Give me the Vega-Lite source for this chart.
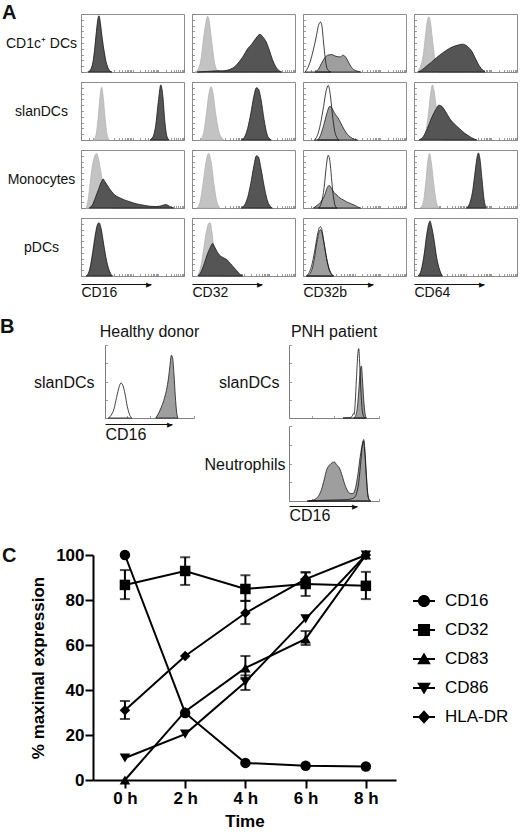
{
  "$schema": "https://vega.github.io/schema/vega-lite/v6.json",
  "padding": {"left": 0, "top": 2, "right": 0, "bottom": 0},
  "background": "white",
  "config": {
    "font": "Liberation Sans",
    "view": {"stroke": null},
    "axis": {"domain": false, "labels": false, "grid": false, "ticks": true, "tickSize": -2.5, "tickColor": "#808080", "tickWidth": 0.8, "titleFontWeight": "normal", "titleColor": "#111", "labelColor": "#111"},
    "title": {"color": "#111"}
  },
  "datasets": {
    "hist": [
      {"p":"a11","s":"1c","x":6,"y":0},{"p":"a11","s":"1c","x":9,"y":4},{"p":"a11","s":"1c","x":12,"y":18},{"p":"a11","s":"1c","x":14,"y":50},{"p":"a11","s":"1c","x":16,"y":85},{"p":"a11","s":"1c","x":17.5,"y":95},{"p":"a11","s":"1c","x":19,"y":82},{"p":"a11","s":"1c","x":21,"y":55},{"p":"a11","s":"1c","x":23,"y":30},{"p":"a11","s":"1c","x":25,"y":12},{"p":"a11","s":"1c","x":27,"y":4},{"p":"a11","s":"1c","x":29,"y":0},
      {"p":"a11","s":"2d","x":7,"y":0},{"p":"a11","s":"2d","x":9,"y":3},{"p":"a11","s":"2d","x":11,"y":12},{"p":"a11","s":"2d","x":13,"y":35},{"p":"a11","s":"2d","x":15,"y":70},{"p":"a11","s":"2d","x":16.5,"y":92},{"p":"a11","s":"2d","x":17.5,"y":97},{"p":"a11","s":"2d","x":18.5,"y":88},{"p":"a11","s":"2d","x":20,"y":65},{"p":"a11","s":"2d","x":22,"y":40},{"p":"a11","s":"2d","x":24,"y":20},{"p":"a11","s":"2d","x":26,"y":8},{"p":"a11","s":"2d","x":28,"y":2},{"p":"a11","s":"2d","x":30,"y":0},

      {"p":"a12","s":"1c","x":3,"y":0},{"p":"a12","s":"1c","x":6,"y":5},{"p":"a12","s":"1c","x":9,"y":25},{"p":"a12","s":"1c","x":11,"y":55},{"p":"a12","s":"1c","x":13,"y":80},{"p":"a12","s":"1c","x":15,"y":96},{"p":"a12","s":"1c","x":16.5,"y":90},{"p":"a12","s":"1c","x":18,"y":70},{"p":"a12","s":"1c","x":20,"y":40},{"p":"a12","s":"1c","x":22,"y":15},{"p":"a12","s":"1c","x":24,"y":4},{"p":"a12","s":"1c","x":26,"y":0},
      {"p":"a12","s":"2d","x":5,"y":0},{"p":"a12","s":"2d","x":15,"y":1},{"p":"a12","s":"2d","x":25,"y":2},{"p":"a12","s":"2d","x":30,"y":2},{"p":"a12","s":"2d","x":36,"y":4},{"p":"a12","s":"2d","x":42,"y":10},{"p":"a12","s":"2d","x":46,"y":18},{"p":"a12","s":"2d","x":50,"y":28},{"p":"a12","s":"2d","x":54,"y":40},{"p":"a12","s":"2d","x":58,"y":48},{"p":"a12","s":"2d","x":62,"y":58},{"p":"a12","s":"2d","x":66,"y":65},{"p":"a12","s":"2d","x":69,"y":60},{"p":"a12","s":"2d","x":72,"y":52},{"p":"a12","s":"2d","x":75,"y":38},{"p":"a12","s":"2d","x":78,"y":22},{"p":"a12","s":"2d","x":81,"y":10},{"p":"a12","s":"2d","x":84,"y":3},{"p":"a12","s":"2d","x":87,"y":0},

      {"p":"a13","s":"1g","x":12,"y":0},{"p":"a13","s":"1g","x":15,"y":5},{"p":"a13","s":"1g","x":18,"y":15},{"p":"a13","s":"1g","x":21,"y":24},{"p":"a13","s":"1g","x":24,"y":29},{"p":"a13","s":"1g","x":28,"y":30},{"p":"a13","s":"1g","x":32,"y":27},{"p":"a13","s":"1g","x":36,"y":26},{"p":"a13","s":"1g","x":39,"y":29},{"p":"a13","s":"1g","x":42,"y":24},{"p":"a13","s":"1g","x":45,"y":14},{"p":"a13","s":"1g","x":48,"y":6},{"p":"a13","s":"1g","x":52,"y":2},{"p":"a13","s":"1g","x":56,"y":0},
      {"p":"a13","s":"2o","x":2,"y":0},{"p":"a13","s":"2o","x":4,"y":5},{"p":"a13","s":"2o","x":7,"y":18},{"p":"a13","s":"2o","x":10,"y":38},{"p":"a13","s":"2o","x":13,"y":62},{"p":"a13","s":"2o","x":15,"y":80},{"p":"a13","s":"2o","x":17,"y":86},{"p":"a13","s":"2o","x":18.5,"y":78},{"p":"a13","s":"2o","x":20,"y":50},{"p":"a13","s":"2o","x":21.5,"y":25},{"p":"a13","s":"2o","x":23,"y":8},{"p":"a13","s":"2o","x":25,"y":2},{"p":"a13","s":"2o","x":27,"y":0},

      {"p":"a14","s":"1c","x":3,"y":0},{"p":"a14","s":"1c","x":6,"y":8},{"p":"a14","s":"1c","x":9,"y":30},{"p":"a14","s":"1c","x":11,"y":60},{"p":"a14","s":"1c","x":13,"y":88},{"p":"a14","s":"1c","x":14.5,"y":95},{"p":"a14","s":"1c","x":16,"y":85},{"p":"a14","s":"1c","x":18,"y":55},{"p":"a14","s":"1c","x":20,"y":25},{"p":"a14","s":"1c","x":22,"y":8},{"p":"a14","s":"1c","x":24,"y":0},
      {"p":"a14","s":"2d","x":4,"y":0},{"p":"a14","s":"2d","x":8,"y":4},{"p":"a14","s":"2d","x":12,"y":10},{"p":"a14","s":"2d","x":17,"y":17},{"p":"a14","s":"2d","x":22,"y":25},{"p":"a14","s":"2d","x":27,"y":32},{"p":"a14","s":"2d","x":32,"y":38},{"p":"a14","s":"2d","x":37,"y":43},{"p":"a14","s":"2d","x":42,"y":46},{"p":"a14","s":"2d","x":47,"y":48},{"p":"a14","s":"2d","x":52,"y":44},{"p":"a14","s":"2d","x":56,"y":36},{"p":"a14","s":"2d","x":60,"y":22},{"p":"a14","s":"2d","x":64,"y":9},{"p":"a14","s":"2d","x":67,"y":3},{"p":"a14","s":"2d","x":69,"y":0},

      {"p":"a21","s":"1c","x":12,"y":0},{"p":"a21","s":"1c","x":14.5,"y":8},{"p":"a21","s":"1c","x":16.5,"y":35},{"p":"a21","s":"1c","x":18.5,"y":75},{"p":"a21","s":"1c","x":20,"y":91},{"p":"a21","s":"1c","x":21.5,"y":75},{"p":"a21","s":"1c","x":23.5,"y":35},{"p":"a21","s":"1c","x":25.5,"y":8},{"p":"a21","s":"1c","x":27.5,"y":0},
      {"p":"a21","s":"2d","x":67,"y":0},{"p":"a21","s":"2d","x":70,"y":6},{"p":"a21","s":"2d","x":72.5,"y":25},{"p":"a21","s":"2d","x":75,"y":65},{"p":"a21","s":"2d","x":77.5,"y":95},{"p":"a21","s":"2d","x":79.5,"y":75},{"p":"a21","s":"2d","x":81.5,"y":30},{"p":"a21","s":"2d","x":83.5,"y":6},{"p":"a21","s":"2d","x":85.5,"y":0},

      {"p":"a22","s":"1c","x":8,"y":0},{"p":"a22","s":"1c","x":11,"y":10},{"p":"a22","s":"1c","x":14,"y":45},{"p":"a22","s":"1c","x":16.5,"y":80},{"p":"a22","s":"1c","x":18.5,"y":92},{"p":"a22","s":"1c","x":20.5,"y":80},{"p":"a22","s":"1c","x":23,"y":45},{"p":"a22","s":"1c","x":26,"y":15},{"p":"a22","s":"1c","x":29,"y":3},{"p":"a22","s":"1c","x":31,"y":0},
      {"p":"a22","s":"2d","x":48,"y":0},{"p":"a22","s":"2d","x":51,"y":5},{"p":"a22","s":"2d","x":54,"y":20},{"p":"a22","s":"2d","x":57,"y":45},{"p":"a22","s":"2d","x":60,"y":75},{"p":"a22","s":"2d","x":62.5,"y":90},{"p":"a22","s":"2d","x":64.5,"y":88},{"p":"a22","s":"2d","x":67,"y":70},{"p":"a22","s":"2d","x":70,"y":35},{"p":"a22","s":"2d","x":72.5,"y":12},{"p":"a22","s":"2d","x":75,"y":2},{"p":"a22","s":"2d","x":77,"y":0},

      {"p":"a23","s":"1g","x":14,"y":0},{"p":"a23","s":"1g","x":17,"y":8},{"p":"a23","s":"1g","x":20,"y":25},{"p":"a23","s":"1g","x":23,"y":45},{"p":"a23","s":"1g","x":26,"y":58},{"p":"a23","s":"1g","x":28,"y":55},{"p":"a23","s":"1g","x":31,"y":45},{"p":"a23","s":"1g","x":34,"y":38},{"p":"a23","s":"1g","x":37,"y":28},{"p":"a23","s":"1g","x":40,"y":18},{"p":"a23","s":"1g","x":43,"y":10},{"p":"a23","s":"1g","x":46,"y":5},{"p":"a23","s":"1g","x":50,"y":1},{"p":"a23","s":"1g","x":53,"y":0},
      {"p":"a23","s":"2o","x":11,"y":0},{"p":"a23","s":"2o","x":14,"y":8},{"p":"a23","s":"2o","x":17,"y":28},{"p":"a23","s":"2o","x":20,"y":58},{"p":"a23","s":"2o","x":22.5,"y":85},{"p":"a23","s":"2o","x":24.5,"y":94},{"p":"a23","s":"2o","x":26.5,"y":78},{"p":"a23","s":"2o","x":28.5,"y":45},{"p":"a23","s":"2o","x":30.5,"y":18},{"p":"a23","s":"2o","x":33,"y":4},{"p":"a23","s":"2o","x":35,"y":0},

      {"p":"a24","s":"1c","x":8,"y":0},{"p":"a24","s":"1c","x":11,"y":10},{"p":"a24","s":"1c","x":14,"y":45},{"p":"a24","s":"1c","x":16.5,"y":85},{"p":"a24","s":"1c","x":18,"y":95},{"p":"a24","s":"1c","x":19.5,"y":85},{"p":"a24","s":"1c","x":22,"y":50},{"p":"a24","s":"1c","x":25,"y":15},{"p":"a24","s":"1c","x":28,"y":0},
      {"p":"a24","s":"2d","x":5,"y":0},{"p":"a24","s":"2d","x":9,"y":6},{"p":"a24","s":"2d","x":13,"y":20},{"p":"a24","s":"2d","x":17,"y":38},{"p":"a24","s":"2d","x":21,"y":52},{"p":"a24","s":"2d","x":24,"y":60},{"p":"a24","s":"2d","x":27,"y":58},{"p":"a24","s":"2d","x":31,"y":48},{"p":"a24","s":"2d","x":35,"y":36},{"p":"a24","s":"2d","x":39,"y":28},{"p":"a24","s":"2d","x":44,"y":20},{"p":"a24","s":"2d","x":49,"y":12},{"p":"a24","s":"2d","x":54,"y":6},{"p":"a24","s":"2d","x":58,"y":2},{"p":"a24","s":"2d","x":61,"y":0},

      {"p":"a31","s":"1c","x":5,"y":0},{"p":"a31","s":"1c","x":7,"y":15},{"p":"a31","s":"1c","x":9,"y":45},{"p":"a31","s":"1c","x":11,"y":72},{"p":"a31","s":"1c","x":13,"y":88},{"p":"a31","s":"1c","x":15,"y":94},{"p":"a31","s":"1c","x":17,"y":85},{"p":"a31","s":"1c","x":19,"y":65},{"p":"a31","s":"1c","x":21,"y":45},{"p":"a31","s":"1c","x":23,"y":28},{"p":"a31","s":"1c","x":25,"y":12},{"p":"a31","s":"1c","x":27,"y":3},{"p":"a31","s":"1c","x":29,"y":0},
      {"p":"a31","s":"2d","x":8,"y":0},{"p":"a31","s":"2d","x":11,"y":5},{"p":"a31","s":"2d","x":14,"y":18},{"p":"a31","s":"2d","x":17,"y":32},{"p":"a31","s":"2d","x":20,"y":46},{"p":"a31","s":"2d","x":21.5,"y":50},{"p":"a31","s":"2d","x":23,"y":46},{"p":"a31","s":"2d","x":26,"y":38},{"p":"a31","s":"2d","x":29,"y":30},{"p":"a31","s":"2d","x":33,"y":22},{"p":"a31","s":"2d","x":37,"y":18},{"p":"a31","s":"2d","x":42,"y":14},{"p":"a31","s":"2d","x":47,"y":11},{"p":"a31","s":"2d","x":52,"y":8},{"p":"a31","s":"2d","x":57,"y":6},{"p":"a31","s":"2d","x":62,"y":4.5},{"p":"a31","s":"2d","x":67,"y":3},{"p":"a31","s":"2d","x":72,"y":2.5},{"p":"a31","s":"2d","x":76,"y":3},{"p":"a31","s":"2d","x":80,"y":5},{"p":"a31","s":"2d","x":82,"y":6},{"p":"a31","s":"2d","x":85,"y":4},{"p":"a31","s":"2d","x":88,"y":1},{"p":"a31","s":"2d","x":90,"y":0},

      {"p":"a32","s":"1c","x":5,"y":0},{"p":"a32","s":"1c","x":8,"y":12},{"p":"a32","s":"1c","x":11,"y":45},{"p":"a32","s":"1c","x":13.5,"y":78},{"p":"a32","s":"1c","x":16,"y":94},{"p":"a32","s":"1c","x":18.5,"y":80},{"p":"a32","s":"1c","x":21,"y":45},{"p":"a32","s":"1c","x":24,"y":12},{"p":"a32","s":"1c","x":27,"y":0},
      {"p":"a32","s":"2d","x":48,"y":0},{"p":"a32","s":"2d","x":51,"y":5},{"p":"a32","s":"2d","x":54,"y":18},{"p":"a32","s":"2d","x":57,"y":42},{"p":"a32","s":"2d","x":60,"y":72},{"p":"a32","s":"2d","x":62.5,"y":90},{"p":"a32","s":"2d","x":64.5,"y":88},{"p":"a32","s":"2d","x":67,"y":68},{"p":"a32","s":"2d","x":70,"y":38},{"p":"a32","s":"2d","x":73,"y":14},{"p":"a32","s":"2d","x":76,"y":3},{"p":"a32","s":"2d","x":78,"y":0},

      {"p":"a33","s":"1g","x":10,"y":0},{"p":"a33","s":"1g","x":14,"y":5},{"p":"a33","s":"1g","x":18,"y":12},{"p":"a33","s":"1g","x":21,"y":22},{"p":"a33","s":"1g","x":23.5,"y":35},{"p":"a33","s":"1g","x":25.5,"y":39},{"p":"a33","s":"1g","x":27.5,"y":34},{"p":"a33","s":"1g","x":30,"y":27},{"p":"a33","s":"1g","x":33,"y":22},{"p":"a33","s":"1g","x":36,"y":17},{"p":"a33","s":"1g","x":39,"y":14},{"p":"a33","s":"1g","x":43,"y":10},{"p":"a33","s":"1g","x":47,"y":7},{"p":"a33","s":"1g","x":51,"y":4},{"p":"a33","s":"1g","x":54,"y":1},{"p":"a33","s":"1g","x":56,"y":0},
      {"p":"a33","s":"2o","x":15,"y":0},{"p":"a33","s":"2o","x":18,"y":10},{"p":"a33","s":"2o","x":20.5,"y":35},{"p":"a33","s":"2o","x":22.5,"y":70},{"p":"a33","s":"2o","x":24.5,"y":91},{"p":"a33","s":"2o","x":26.5,"y":75},{"p":"a33","s":"2o","x":28,"y":45},{"p":"a33","s":"2o","x":29.5,"y":20},{"p":"a33","s":"2o","x":31,"y":5},{"p":"a33","s":"2o","x":33,"y":0},

      {"p":"a34","s":"1c","x":6,"y":0},{"p":"a34","s":"1c","x":9,"y":10},{"p":"a34","s":"1c","x":11.5,"y":45},{"p":"a34","s":"1c","x":13.5,"y":82},{"p":"a34","s":"1c","x":15,"y":94},{"p":"a34","s":"1c","x":16.5,"y":82},{"p":"a34","s":"1c","x":19,"y":45},{"p":"a34","s":"1c","x":21.5,"y":12},{"p":"a34","s":"1c","x":24,"y":0},
      {"p":"a34","s":"2d","x":51,"y":0},{"p":"a34","s":"2d","x":54,"y":8},{"p":"a34","s":"2d","x":57,"y":30},{"p":"a34","s":"2d","x":59.5,"y":65},{"p":"a34","s":"2d","x":61.5,"y":90},{"p":"a34","s":"2d","x":62.5,"y":95},{"p":"a34","s":"2d","x":64,"y":85},{"p":"a34","s":"2d","x":66,"y":50},{"p":"a34","s":"2d","x":68,"y":15},{"p":"a34","s":"2d","x":70,"y":0},

      {"p":"a41","s":"1c","x":5,"y":0},{"p":"a41","s":"1c","x":8,"y":10},{"p":"a41","s":"1c","x":11,"y":40},{"p":"a41","s":"1c","x":14,"y":75},{"p":"a41","s":"1c","x":16.5,"y":90},{"p":"a41","s":"1c","x":18.5,"y":85},{"p":"a41","s":"1c","x":21,"y":60},{"p":"a41","s":"1c","x":24,"y":28},{"p":"a41","s":"1c","x":27,"y":8},{"p":"a41","s":"1c","x":30,"y":0},
      {"p":"a41","s":"2d","x":5,"y":0},{"p":"a41","s":"2d","x":8,"y":8},{"p":"a41","s":"2d","x":11,"y":35},{"p":"a41","s":"2d","x":13.5,"y":65},{"p":"a41","s":"2d","x":15.5,"y":85},{"p":"a41","s":"2d","x":17.5,"y":92},{"p":"a41","s":"2d","x":19.5,"y":82},{"p":"a41","s":"2d","x":22,"y":55},{"p":"a41","s":"2d","x":25,"y":25},{"p":"a41","s":"2d","x":28,"y":7},{"p":"a41","s":"2d","x":30.5,"y":0},

      {"p":"a42","s":"1c","x":5,"y":0},{"p":"a42","s":"1c","x":8,"y":12},{"p":"a42","s":"1c","x":11,"y":42},{"p":"a42","s":"1c","x":13.5,"y":72},{"p":"a42","s":"1c","x":16,"y":90},{"p":"a42","s":"1c","x":17.5,"y":92},{"p":"a42","s":"1c","x":19,"y":80},{"p":"a42","s":"1c","x":21,"y":50},{"p":"a42","s":"1c","x":23,"y":22},{"p":"a42","s":"1c","x":25,"y":5},{"p":"a42","s":"1c","x":27,"y":0},
      {"p":"a42","s":"2d","x":6,"y":0},{"p":"a42","s":"2d","x":9,"y":8},{"p":"a42","s":"2d","x":12,"y":22},{"p":"a42","s":"2d","x":15,"y":38},{"p":"a42","s":"2d","x":18,"y":50},{"p":"a42","s":"2d","x":20,"y":56},{"p":"a42","s":"2d","x":22,"y":50},{"p":"a42","s":"2d","x":25,"y":40},{"p":"a42","s":"2d","x":28,"y":34},{"p":"a42","s":"2d","x":31,"y":31},{"p":"a42","s":"2d","x":34,"y":28},{"p":"a42","s":"2d","x":37,"y":22},{"p":"a42","s":"2d","x":40,"y":16},{"p":"a42","s":"2d","x":43,"y":10},{"p":"a42","s":"2d","x":46,"y":4},{"p":"a42","s":"2d","x":49,"y":0},

      {"p":"a43","s":"1g","x":4,"y":0},{"p":"a43","s":"1g","x":8,"y":8},{"p":"a43","s":"1g","x":11,"y":30},{"p":"a43","s":"1g","x":13.5,"y":58},{"p":"a43","s":"1g","x":15.5,"y":75},{"p":"a43","s":"1g","x":17,"y":80},{"p":"a43","s":"1g","x":18.5,"y":74},{"p":"a43","s":"1g","x":20.5,"y":55},{"p":"a43","s":"1g","x":23,"y":30},{"p":"a43","s":"1g","x":25.5,"y":12},{"p":"a43","s":"1g","x":28,"y":3},{"p":"a43","s":"1g","x":30,"y":0},
      {"p":"a43","s":"2o","x":3,"y":0},{"p":"a43","s":"2o","x":6,"y":6},{"p":"a43","s":"2o","x":9,"y":22},{"p":"a43","s":"2o","x":12,"y":50},{"p":"a43","s":"2o","x":14.5,"y":75},{"p":"a43","s":"2o","x":16.5,"y":85},{"p":"a43","s":"2o","x":18,"y":82},{"p":"a43","s":"2o","x":20,"y":62},{"p":"a43","s":"2o","x":22,"y":40},{"p":"a43","s":"2o","x":24,"y":20},{"p":"a43","s":"2o","x":26.5,"y":6},{"p":"a43","s":"2o","x":29,"y":0},

      {"p":"a44","s":"1c","x":4,"y":0},{"p":"a44","s":"1c","x":7,"y":10},{"p":"a44","s":"1c","x":10,"y":40},{"p":"a44","s":"1c","x":12.5,"y":75},{"p":"a44","s":"1c","x":14.5,"y":92},{"p":"a44","s":"1c","x":16.5,"y":85},{"p":"a44","s":"1c","x":19,"y":60},{"p":"a44","s":"1c","x":22,"y":28},{"p":"a44","s":"1c","x":25,"y":8},{"p":"a44","s":"1c","x":27.5,"y":0},
      {"p":"a44","s":"2d","x":4,"y":0},{"p":"a44","s":"2d","x":7,"y":10},{"p":"a44","s":"2d","x":10,"y":38},{"p":"a44","s":"2d","x":12.5,"y":72},{"p":"a44","s":"2d","x":14.5,"y":90},{"p":"a44","s":"2d","x":15.5,"y":95},{"p":"a44","s":"2d","x":17,"y":86},{"p":"a44","s":"2d","x":19.5,"y":62},{"p":"a44","s":"2d","x":22,"y":32},{"p":"a44","s":"2d","x":25,"y":10},{"p":"a44","s":"2d","x":27.5,"y":0},

      {"p":"b1","s":"1g","x":57,"y":0},{"p":"b1","s":"1g","x":60,"y":6},{"p":"b1","s":"1g","x":63,"y":14},{"p":"b1","s":"1g","x":66,"y":24},{"p":"b1","s":"1g","x":69,"y":38},{"p":"b1","s":"1g","x":71.5,"y":56},{"p":"b1","s":"1g","x":73,"y":72},{"p":"b1","s":"1g","x":74.5,"y":86},{"p":"b1","s":"1g","x":76,"y":82},{"p":"b1","s":"1g","x":77.5,"y":60},{"p":"b1","s":"1g","x":79,"y":30},{"p":"b1","s":"1g","x":80.5,"y":8},{"p":"b1","s":"1g","x":82,"y":0},
      {"p":"b1","s":"2o","x":3.7,"y":0},{"p":"b1","s":"2o","x":7,"y":4},{"p":"b1","s":"2o","x":10,"y":12},{"p":"b1","s":"2o","x":13,"y":28},{"p":"b1","s":"2o","x":16,"y":43},{"p":"b1","s":"2o","x":18,"y":48},{"p":"b1","s":"2o","x":20,"y":45},{"p":"b1","s":"2o","x":22.5,"y":33},{"p":"b1","s":"2o","x":25,"y":16},{"p":"b1","s":"2o","x":27.5,"y":5},{"p":"b1","s":"2o","x":30,"y":0},

      {"p":"b2","s":"1g","x":72,"y":0},{"p":"b2","s":"1g","x":74,"y":3},{"p":"b2","s":"1g","x":76,"y":15},{"p":"b2","s":"1g","x":78,"y":45},{"p":"b2","s":"1g","x":79.5,"y":68},{"p":"b2","s":"1g","x":80.5,"y":71},{"p":"b2","s":"1g","x":81.5,"y":55},{"p":"b2","s":"1g","x":83,"y":25},{"p":"b2","s":"1g","x":84.5,"y":6},{"p":"b2","s":"1g","x":86,"y":0},
      {"p":"b2","s":"2o","x":60,"y":0},{"p":"b2","s":"2o","x":68,"y":0.5},{"p":"b2","s":"2o","x":70,"y":2},{"p":"b2","s":"2o","x":71.5,"y":6},{"p":"b2","s":"2o","x":72.5,"y":5},{"p":"b2","s":"2o","x":73.5,"y":20},{"p":"b2","s":"2o","x":75,"y":55},{"p":"b2","s":"2o","x":76.5,"y":88},{"p":"b2","s":"2o","x":77.5,"y":95},{"p":"b2","s":"2o","x":78.5,"y":75},{"p":"b2","s":"2o","x":80,"y":35},{"p":"b2","s":"2o","x":81.5,"y":10},{"p":"b2","s":"2o","x":83,"y":2},{"p":"b2","s":"2o","x":85,"y":0},

      {"p":"b3","s":"1g","x":22,"y":0},{"p":"b3","s":"1g","x":26,"y":1},{"p":"b3","s":"1g","x":30,"y":3},{"p":"b3","s":"1g","x":33,"y":7},{"p":"b3","s":"1g","x":36,"y":15},{"p":"b3","s":"1g","x":39,"y":28},{"p":"b3","s":"1g","x":42,"y":42},{"p":"b3","s":"1g","x":45,"y":48},{"p":"b3","s":"1g","x":48,"y":51},{"p":"b3","s":"1g","x":50.5,"y":52},{"p":"b3","s":"1g","x":53,"y":48},{"p":"b3","s":"1g","x":56,"y":44},{"p":"b3","s":"1g","x":59,"y":34},{"p":"b3","s":"1g","x":62,"y":22},{"p":"b3","s":"1g","x":65,"y":14},{"p":"b3","s":"1g","x":68,"y":10},{"p":"b3","s":"1g","x":71,"y":10},{"p":"b3","s":"1g","x":74,"y":18},{"p":"b3","s":"1g","x":76.5,"y":35},{"p":"b3","s":"1g","x":79,"y":58},{"p":"b3","s":"1g","x":81.5,"y":76},{"p":"b3","s":"1g","x":82.7,"y":80},{"p":"b3","s":"1g","x":84,"y":68},{"p":"b3","s":"1g","x":85.5,"y":40},{"p":"b3","s":"1g","x":87,"y":14},{"p":"b3","s":"1g","x":88.5,"y":3},{"p":"b3","s":"1g","x":90,"y":0},
      {"p":"b3","s":"2o","x":20,"y":0},{"p":"b3","s":"2o","x":40,"y":1},{"p":"b3","s":"2o","x":55,"y":1.5},{"p":"b3","s":"2o","x":65,"y":2},{"p":"b3","s":"2o","x":72,"y":4},{"p":"b3","s":"2o","x":75,"y":10},{"p":"b3","s":"2o","x":77.5,"y":25},{"p":"b3","s":"2o","x":80,"y":55},{"p":"b3","s":"2o","x":82,"y":78},{"p":"b3","s":"2o","x":83,"y":82},{"p":"b3","s":"2o","x":84.5,"y":65},{"p":"b3","s":"2o","x":86,"y":35},{"p":"b3","s":"2o","x":87.5,"y":10},{"p":"b3","s":"2o","x":89,"y":2},{"p":"b3","s":"2o","x":91,"y":0}
    ],
    "expr": [
      {"m":"CD16","t":0,"v":100},{"m":"CD16","t":2,"v":29.8},{"m":"CD16","t":4,"v":7.6},{"m":"CD16","t":6,"v":6.3},{"m":"CD16","t":8,"v":6},
      {"m":"CD32","t":0,"v":86.7,"lo":80.4,"hi":93.3},{"m":"CD32","t":2,"v":92.9,"lo":86.7,"hi":99},{"m":"CD32","t":4,"v":84.9,"lo":79.6,"hi":91},{"m":"CD32","t":6,"v":87.1,"lo":81.8,"hi":92.3},{"m":"CD32","t":8,"v":86.3,"lo":80.4,"hi":92.5},
      {"m":"CD83","t":0,"v":0},{"m":"CD83","t":2,"v":30.5},{"m":"CD83","t":4,"v":49.8,"lo":45,"hi":55.1},{"m":"CD83","t":6,"v":62.7,"lo":60,"hi":66.2},{"m":"CD83","t":8,"v":100},
      {"m":"CD86","t":0,"v":9.8},{"m":"CD86","t":2,"v":20.4},{"m":"CD86","t":4,"v":43.6,"lo":40,"hi":46.5},{"m":"CD86","t":6,"v":71.6},{"m":"CD86","t":8,"v":100},
      {"m":"HLA-DR","t":0,"v":31,"lo":27.1,"hi":35.1},{"m":"HLA-DR","t":2,"v":55.1},{"m":"HLA-DR","t":4,"v":74.2,"lo":69.3,"hi":79.6},{"m":"HLA-DR","t":6,"v":89.3,"lo":86.3,"hi":92.3},{"m":"HLA-DR","t":8,"v":100}
    ]
  },
  "spacing": 0,
  "vconcat": [
    {
      "columns": 4,
      "spacing": {"row": 10, "column": 8},
      "align": "all",
      "bounds": "flush",
      "concat": [
        {"width": 103, "height": 58, "view": {"stroke": "#8c8c8c"}, "data": {"name": "hist"}, "transform": [{"filter": "datum.p == 'a11'"}], "mark": {"type": "area", "interpolate": "monotone", "strokeWidth": 0.8},
         "title": {"text": "A", "anchor": "start", "frame": "group", "dx": -79, "dy": 25, "offset": 0, "baseline": "alphabetic", "fontSize": 20, "fontWeight": "bold"},
         "encoding": {"x": {"field": "x", "type": "quantitative", "scale": {"domain": [0, 100], "nice": false}, "axis": {"title": null, "values": [0,7.5,11.9,15.1,17.5,19.5,21.1,22.6,23.9,25,32.5,36.9,40.1,42.5,44.5,46.1,47.6,48.9,50,57.5,61.9,65.1,67.5,69.5,71.1,72.6,73.9,75,82.5,86.9,90.1,92.5,94.5,96.1,97.6,98.9,100]}},
          "y": {"field": "y", "type": "quantitative", "stack": null, "scale": {"domain": [0, 100]}, "axis": {"values": [0,10,20,30,40,50,60,70,80,90,100], "title": "CD1c⁺ DCs", "titleAngle": 0, "titleAlign": "center", "titleBaseline": "middle", "titleX": -40, "titleY": 29, "titleFontSize": 14}},
          "fill": {"field": "s", "type": "nominal", "scale": {"domain": ["1c","1g","2d","2o"], "range": ["#c3c3c3","#9e9e9e","#555555","transparent"]}, "legend": null},
          "stroke": {"field": "s", "type": "nominal", "scale": {"domain": ["1c","1g","2d","2o"], "range": ["#b3b3b3","#1a1a1a","#1a1a1a","#111111"]}, "legend": null}}},
        {"width": 103, "height": 58, "view": {"stroke": "#8c8c8c"}, "data": {"name": "hist"}, "transform": [{"filter": "datum.p == 'a12'"}], "mark": {"type": "area", "interpolate": "monotone", "strokeWidth": 0.8},
         "encoding": {"x": {"field": "x", "type": "quantitative", "scale": {"domain": [0, 100], "nice": false}, "axis": {"title": null, "values": [0,7.5,11.9,15.1,17.5,19.5,21.1,22.6,23.9,25,32.5,36.9,40.1,42.5,44.5,46.1,47.6,48.9,50,57.5,61.9,65.1,67.5,69.5,71.1,72.6,73.9,75,82.5,86.9,90.1,92.5,94.5,96.1,97.6,98.9,100]}},
          "y": {"field": "y", "type": "quantitative", "stack": null, "scale": {"domain": [0, 100]}, "axis": {"title": null, "values": [0,10,20,30,40,50,60,70,80,90,100]}},
          "fill": {"field": "s", "type": "nominal", "legend": null}, "stroke": {"field": "s", "type": "nominal", "legend": null}}},
        {"width": 103, "height": 58, "view": {"stroke": "#8c8c8c"}, "data": {"name": "hist"}, "transform": [{"filter": "datum.p == 'a13'"}], "mark": {"type": "area", "interpolate": "monotone", "strokeWidth": 0.8},
         "encoding": {"x": {"field": "x", "type": "quantitative", "scale": {"domain": [0, 100], "nice": false}, "axis": {"title": null, "values": [0,7.5,11.9,15.1,17.5,19.5,21.1,22.6,23.9,25,32.5,36.9,40.1,42.5,44.5,46.1,47.6,48.9,50,57.5,61.9,65.1,67.5,69.5,71.1,72.6,73.9,75,82.5,86.9,90.1,92.5,94.5,96.1,97.6,98.9,100]}},
          "y": {"field": "y", "type": "quantitative", "stack": null, "scale": {"domain": [0, 100]}, "axis": {"title": null, "values": [0,10,20,30,40,50,60,70,80,90,100]}},
          "fill": {"field": "s", "type": "nominal", "legend": null}, "stroke": {"field": "s", "type": "nominal", "legend": null}}},
        {"width": 103, "height": 58, "view": {"stroke": "#8c8c8c"}, "data": {"name": "hist"}, "transform": [{"filter": "datum.p == 'a14'"}], "mark": {"type": "area", "interpolate": "monotone", "strokeWidth": 0.8},
         "encoding": {"x": {"field": "x", "type": "quantitative", "scale": {"domain": [0, 100], "nice": false}, "axis": {"title": null, "values": [0,7.5,11.9,15.1,17.5,19.5,21.1,22.6,23.9,25,32.5,36.9,40.1,42.5,44.5,46.1,47.6,48.9,50,57.5,61.9,65.1,67.5,69.5,71.1,72.6,73.9,75,82.5,86.9,90.1,92.5,94.5,96.1,97.6,98.9,100]}},
          "y": {"field": "y", "type": "quantitative", "stack": null, "scale": {"domain": [0, 100]}, "axis": {"title": null, "values": [0,10,20,30,40,50,60,70,80,90,100]}},
          "fill": {"field": "s", "type": "nominal", "legend": null}, "stroke": {"field": "s", "type": "nominal", "legend": null}}},

        {"width": 103, "height": 58, "view": {"stroke": "#8c8c8c"}, "data": {"name": "hist"}, "transform": [{"filter": "datum.p == 'a21'"}], "mark": {"type": "area", "interpolate": "monotone", "strokeWidth": 0.8},
         "encoding": {"x": {"field": "x", "type": "quantitative", "scale": {"domain": [0, 100], "nice": false}, "axis": {"title": null, "values": [0,7.5,11.9,15.1,17.5,19.5,21.1,22.6,23.9,25,32.5,36.9,40.1,42.5,44.5,46.1,47.6,48.9,50,57.5,61.9,65.1,67.5,69.5,71.1,72.6,73.9,75,82.5,86.9,90.1,92.5,94.5,96.1,97.6,98.9,100]}},
          "y": {"field": "y", "type": "quantitative", "stack": null, "scale": {"domain": [0, 100]}, "axis": {"values": [0,10,20,30,40,50,60,70,80,90,100], "title": "slanDCs", "titleAngle": 0, "titleAlign": "center", "titleBaseline": "middle", "titleX": -40, "titleY": 29, "titleFontSize": 14}},
          "fill": {"field": "s", "type": "nominal", "legend": null}, "stroke": {"field": "s", "type": "nominal", "legend": null}}},
        {"width": 103, "height": 58, "view": {"stroke": "#8c8c8c"}, "data": {"name": "hist"}, "transform": [{"filter": "datum.p == 'a22'"}], "mark": {"type": "area", "interpolate": "monotone", "strokeWidth": 0.8},
         "encoding": {"x": {"field": "x", "type": "quantitative", "scale": {"domain": [0, 100], "nice": false}, "axis": {"title": null, "values": [0,7.5,11.9,15.1,17.5,19.5,21.1,22.6,23.9,25,32.5,36.9,40.1,42.5,44.5,46.1,47.6,48.9,50,57.5,61.9,65.1,67.5,69.5,71.1,72.6,73.9,75,82.5,86.9,90.1,92.5,94.5,96.1,97.6,98.9,100]}},
          "y": {"field": "y", "type": "quantitative", "stack": null, "scale": {"domain": [0, 100]}, "axis": {"title": null, "values": [0,10,20,30,40,50,60,70,80,90,100]}},
          "fill": {"field": "s", "type": "nominal", "legend": null}, "stroke": {"field": "s", "type": "nominal", "legend": null}}},
        {"width": 103, "height": 58, "view": {"stroke": "#8c8c8c"}, "data": {"name": "hist"}, "transform": [{"filter": "datum.p == 'a23'"}], "mark": {"type": "area", "interpolate": "monotone", "strokeWidth": 0.8},
         "encoding": {"x": {"field": "x", "type": "quantitative", "scale": {"domain": [0, 100], "nice": false}, "axis": {"title": null, "values": [0,7.5,11.9,15.1,17.5,19.5,21.1,22.6,23.9,25,32.5,36.9,40.1,42.5,44.5,46.1,47.6,48.9,50,57.5,61.9,65.1,67.5,69.5,71.1,72.6,73.9,75,82.5,86.9,90.1,92.5,94.5,96.1,97.6,98.9,100]}},
          "y": {"field": "y", "type": "quantitative", "stack": null, "scale": {"domain": [0, 100]}, "axis": {"title": null, "values": [0,10,20,30,40,50,60,70,80,90,100]}},
          "fill": {"field": "s", "type": "nominal", "legend": null}, "stroke": {"field": "s", "type": "nominal", "legend": null}}},
        {"width": 103, "height": 58, "view": {"stroke": "#8c8c8c"}, "data": {"name": "hist"}, "transform": [{"filter": "datum.p == 'a24'"}], "mark": {"type": "area", "interpolate": "monotone", "strokeWidth": 0.8},
         "encoding": {"x": {"field": "x", "type": "quantitative", "scale": {"domain": [0, 100], "nice": false}, "axis": {"title": null, "values": [0,7.5,11.9,15.1,17.5,19.5,21.1,22.6,23.9,25,32.5,36.9,40.1,42.5,44.5,46.1,47.6,48.9,50,57.5,61.9,65.1,67.5,69.5,71.1,72.6,73.9,75,82.5,86.9,90.1,92.5,94.5,96.1,97.6,98.9,100]}},
          "y": {"field": "y", "type": "quantitative", "stack": null, "scale": {"domain": [0, 100]}, "axis": {"title": null, "values": [0,10,20,30,40,50,60,70,80,90,100]}},
          "fill": {"field": "s", "type": "nominal", "legend": null}, "stroke": {"field": "s", "type": "nominal", "legend": null}}},

        {"width": 103, "height": 58, "view": {"stroke": "#8c8c8c"}, "data": {"name": "hist"}, "transform": [{"filter": "datum.p == 'a31'"}], "mark": {"type": "area", "interpolate": "monotone", "strokeWidth": 0.8},
         "encoding": {"x": {"field": "x", "type": "quantitative", "scale": {"domain": [0, 100], "nice": false}, "axis": {"title": null, "values": [0,7.5,11.9,15.1,17.5,19.5,21.1,22.6,23.9,25,32.5,36.9,40.1,42.5,44.5,46.1,47.6,48.9,50,57.5,61.9,65.1,67.5,69.5,71.1,72.6,73.9,75,82.5,86.9,90.1,92.5,94.5,96.1,97.6,98.9,100]}},
          "y": {"field": "y", "type": "quantitative", "stack": null, "scale": {"domain": [0, 100]}, "axis": {"values": [0,10,20,30,40,50,60,70,80,90,100], "title": "Monocytes", "titleAngle": 0, "titleAlign": "center", "titleBaseline": "middle", "titleX": -40, "titleY": 29, "titleFontSize": 14}},
          "fill": {"field": "s", "type": "nominal", "legend": null}, "stroke": {"field": "s", "type": "nominal", "legend": null}}},
        {"width": 103, "height": 58, "view": {"stroke": "#8c8c8c"}, "data": {"name": "hist"}, "transform": [{"filter": "datum.p == 'a32'"}], "mark": {"type": "area", "interpolate": "monotone", "strokeWidth": 0.8},
         "encoding": {"x": {"field": "x", "type": "quantitative", "scale": {"domain": [0, 100], "nice": false}, "axis": {"title": null, "values": [0,7.5,11.9,15.1,17.5,19.5,21.1,22.6,23.9,25,32.5,36.9,40.1,42.5,44.5,46.1,47.6,48.9,50,57.5,61.9,65.1,67.5,69.5,71.1,72.6,73.9,75,82.5,86.9,90.1,92.5,94.5,96.1,97.6,98.9,100]}},
          "y": {"field": "y", "type": "quantitative", "stack": null, "scale": {"domain": [0, 100]}, "axis": {"title": null, "values": [0,10,20,30,40,50,60,70,80,90,100]}},
          "fill": {"field": "s", "type": "nominal", "legend": null}, "stroke": {"field": "s", "type": "nominal", "legend": null}}},
        {"width": 103, "height": 58, "view": {"stroke": "#8c8c8c"}, "data": {"name": "hist"}, "transform": [{"filter": "datum.p == 'a33'"}], "mark": {"type": "area", "interpolate": "monotone", "strokeWidth": 0.8},
         "encoding": {"x": {"field": "x", "type": "quantitative", "scale": {"domain": [0, 100], "nice": false}, "axis": {"title": null, "values": [0,7.5,11.9,15.1,17.5,19.5,21.1,22.6,23.9,25,32.5,36.9,40.1,42.5,44.5,46.1,47.6,48.9,50,57.5,61.9,65.1,67.5,69.5,71.1,72.6,73.9,75,82.5,86.9,90.1,92.5,94.5,96.1,97.6,98.9,100]}},
          "y": {"field": "y", "type": "quantitative", "stack": null, "scale": {"domain": [0, 100]}, "axis": {"title": null, "values": [0,10,20,30,40,50,60,70,80,90,100]}},
          "fill": {"field": "s", "type": "nominal", "legend": null}, "stroke": {"field": "s", "type": "nominal", "legend": null}}},
        {"width": 103, "height": 58, "view": {"stroke": "#8c8c8c"}, "data": {"name": "hist"}, "transform": [{"filter": "datum.p == 'a34'"}], "mark": {"type": "area", "interpolate": "monotone", "strokeWidth": 0.8},
         "encoding": {"x": {"field": "x", "type": "quantitative", "scale": {"domain": [0, 100], "nice": false}, "axis": {"title": null, "values": [0,7.5,11.9,15.1,17.5,19.5,21.1,22.6,23.9,25,32.5,36.9,40.1,42.5,44.5,46.1,47.6,48.9,50,57.5,61.9,65.1,67.5,69.5,71.1,72.6,73.9,75,82.5,86.9,90.1,92.5,94.5,96.1,97.6,98.9,100]}},
          "y": {"field": "y", "type": "quantitative", "stack": null, "scale": {"domain": [0, 100]}, "axis": {"title": null, "values": [0,10,20,30,40,50,60,70,80,90,100]}},
          "fill": {"field": "s", "type": "nominal", "legend": null}, "stroke": {"field": "s", "type": "nominal", "legend": null}}},

        {"width": 103, "height": 58, "view": {"stroke": "#8c8c8c"},
         "layer": [
          {"data": {"name": "hist"}, "transform": [{"filter": "datum.p == 'a41'"}], "mark": {"type": "area", "interpolate": "monotone", "strokeWidth": 0.8},
           "encoding": {"x": {"field": "x", "type": "quantitative", "scale": {"domain": [0, 100], "nice": false}, "axis": {"title": null, "values": [0,7.5,11.9,15.1,17.5,19.5,21.1,22.6,23.9,25,32.5,36.9,40.1,42.5,44.5,46.1,47.6,48.9,50,57.5,61.9,65.1,67.5,69.5,71.1,72.6,73.9,75,82.5,86.9,90.1,92.5,94.5,96.1,97.6,98.9,100]}},
            "y": {"field": "y", "type": "quantitative", "stack": null, "scale": {"domain": [0, 100]}, "axis": {"values": [0,10,20,30,40,50,60,70,80,90,100], "title": "pDCs", "titleAngle": 0, "titleAlign": "center", "titleBaseline": "middle", "titleX": -40, "titleY": 29, "titleFontSize": 14}},
            "fill": {"field": "s", "type": "nominal", "legend": null}, "stroke": {"field": "s", "type": "nominal", "legend": null}}},
          {"data": {"values": [{"a": 0}, {"a": 1}]}, "mark": {"type": "point", "opacity": 0},
           "encoding": {"x": {"field": "a", "type": "quantitative", "scale": {"domain": [0, 1], "range": [0, 70], "nice": false, "zero": false},
            "axis": {"orient": "bottom", "offset": 8, "domain": true, "domainColor": "#111", "domainWidth": 1, "ticks": false, "values": [1], "labels": true, "labelExpr": "'▶'", "labelFont": "DejaVu Sans", "labelFontSize": 7, "labelColor": "#111", "labelBaseline": "middle", "labelAlign": "right", "labelPadding": 0, "title": "CD16", "titleX": 0, "titleY": 12, "titleAlign": "left", "titleAnchor": "start", "titleBaseline": "alphabetic", "titleFontSize": 14}}}}
         ],
         "resolve": {"scale": {"x": "independent"}}},
        {"width": 103, "height": 58, "view": {"stroke": "#8c8c8c"},
         "layer": [
          {"data": {"name": "hist"}, "transform": [{"filter": "datum.p == 'a42'"}], "mark": {"type": "area", "interpolate": "monotone", "strokeWidth": 0.8},
           "encoding": {"x": {"field": "x", "type": "quantitative", "scale": {"domain": [0, 100], "nice": false}, "axis": {"title": null, "values": [0,7.5,11.9,15.1,17.5,19.5,21.1,22.6,23.9,25,32.5,36.9,40.1,42.5,44.5,46.1,47.6,48.9,50,57.5,61.9,65.1,67.5,69.5,71.1,72.6,73.9,75,82.5,86.9,90.1,92.5,94.5,96.1,97.6,98.9,100]}},
            "y": {"field": "y", "type": "quantitative", "stack": null, "scale": {"domain": [0, 100]}, "axis": {"title": null, "values": [0,10,20,30,40,50,60,70,80,90,100]}},
            "fill": {"field": "s", "type": "nominal", "legend": null}, "stroke": {"field": "s", "type": "nominal", "legend": null}}},
          {"data": {"values": [{"a": 0}, {"a": 1}]}, "mark": {"type": "point", "opacity": 0},
           "encoding": {"x": {"field": "a", "type": "quantitative", "scale": {"domain": [0, 1], "range": [0, 70], "nice": false, "zero": false},
            "axis": {"orient": "bottom", "offset": 8, "domain": true, "domainColor": "#111", "domainWidth": 1, "ticks": false, "values": [1], "labels": true, "labelExpr": "'▶'", "labelFont": "DejaVu Sans", "labelFontSize": 7, "labelColor": "#111", "labelBaseline": "middle", "labelAlign": "right", "labelPadding": 0, "title": "CD32", "titleX": 0, "titleY": 12, "titleAlign": "left", "titleAnchor": "start", "titleBaseline": "alphabetic", "titleFontSize": 14}}}}
         ],
         "resolve": {"scale": {"x": "independent"}}},
        {"width": 103, "height": 58, "view": {"stroke": "#8c8c8c"},
         "layer": [
          {"data": {"name": "hist"}, "transform": [{"filter": "datum.p == 'a43'"}], "mark": {"type": "area", "interpolate": "monotone", "strokeWidth": 0.8},
           "encoding": {"x": {"field": "x", "type": "quantitative", "scale": {"domain": [0, 100], "nice": false}, "axis": {"title": null, "values": [0,7.5,11.9,15.1,17.5,19.5,21.1,22.6,23.9,25,32.5,36.9,40.1,42.5,44.5,46.1,47.6,48.9,50,57.5,61.9,65.1,67.5,69.5,71.1,72.6,73.9,75,82.5,86.9,90.1,92.5,94.5,96.1,97.6,98.9,100]}},
            "y": {"field": "y", "type": "quantitative", "stack": null, "scale": {"domain": [0, 100]}, "axis": {"title": null, "values": [0,10,20,30,40,50,60,70,80,90,100]}},
            "fill": {"field": "s", "type": "nominal", "legend": null}, "stroke": {"field": "s", "type": "nominal", "legend": null}}},
          {"data": {"values": [{"a": 0}, {"a": 1}]}, "mark": {"type": "point", "opacity": 0},
           "encoding": {"x": {"field": "a", "type": "quantitative", "scale": {"domain": [0, 1], "range": [0, 70], "nice": false, "zero": false},
            "axis": {"orient": "bottom", "offset": 8, "domain": true, "domainColor": "#111", "domainWidth": 1, "ticks": false, "values": [1], "labels": true, "labelExpr": "'▶'", "labelFont": "DejaVu Sans", "labelFontSize": 7, "labelColor": "#111", "labelBaseline": "middle", "labelAlign": "right", "labelPadding": 0, "title": "CD32b", "titleX": 0, "titleY": 12, "titleAlign": "left", "titleAnchor": "start", "titleBaseline": "alphabetic", "titleFontSize": 14}}}}
         ],
         "resolve": {"scale": {"x": "independent"}}},
        {"width": 103, "height": 58, "view": {"stroke": "#8c8c8c"},
         "layer": [
          {"data": {"name": "hist"}, "transform": [{"filter": "datum.p == 'a44'"}], "mark": {"type": "area", "interpolate": "monotone", "strokeWidth": 0.8},
           "encoding": {"x": {"field": "x", "type": "quantitative", "scale": {"domain": [0, 100], "nice": false}, "axis": {"title": null, "values": [0,7.5,11.9,15.1,17.5,19.5,21.1,22.6,23.9,25,32.5,36.9,40.1,42.5,44.5,46.1,47.6,48.9,50,57.5,61.9,65.1,67.5,69.5,71.1,72.6,73.9,75,82.5,86.9,90.1,92.5,94.5,96.1,97.6,98.9,100]}},
            "y": {"field": "y", "type": "quantitative", "stack": null, "scale": {"domain": [0, 100]}, "axis": {"title": null, "values": [0,10,20,30,40,50,60,70,80,90,100]}},
            "fill": {"field": "s", "type": "nominal", "legend": null}, "stroke": {"field": "s", "type": "nominal", "legend": null}}},
          {"data": {"values": [{"a": 0}, {"a": 1}]}, "mark": {"type": "point", "opacity": 0},
           "encoding": {"x": {"field": "a", "type": "quantitative", "scale": {"domain": [0, 1], "range": [0, 70], "nice": false, "zero": false},
            "axis": {"orient": "bottom", "offset": 8, "domain": true, "domainColor": "#111", "domainWidth": 1, "ticks": false, "values": [1], "labels": true, "labelExpr": "'▶'", "labelFont": "DejaVu Sans", "labelFontSize": 7, "labelColor": "#111", "labelBaseline": "middle", "labelAlign": "right", "labelPadding": 0, "title": "CD64", "titleX": 0, "titleY": 12, "titleAlign": "left", "titleAnchor": "start", "titleBaseline": "alphabetic", "titleFontSize": 14}}}}
         ],
         "resolve": {"scale": {"x": "independent"}}}
      ]
    },
    {"width": 1, "height": 16, "data": {"values": [{"k": 0}]}, "mark": {"type": "point", "opacity": 0}},
    {
      "columns": 4,
      "spacing": {"row": 8, "column": 8},
      "align": "each",
      "bounds": "flush",
      "concat": [
        {"width": 16, "height": 1, "data": {"values": [{"k": 0}]}, "mark": {"type": "point", "opacity": 0}},
        {"width": 89, "height": 73,
         "title": {"text": "Healthy donor", "fontSize": 16, "fontWeight": "normal", "offset": 0, "dy": 8, "baseline": "alphabetic", "anchor": "middle"},
         "layer": [
          {"data": {"name": "hist"}, "transform": [{"filter": "datum.p == 'b1'"}], "mark": {"type": "area", "interpolate": "monotone", "strokeWidth": 0.8},
           "encoding": {"x": {"field": "x", "type": "quantitative", "scale": {"domain": [0, 100], "nice": false}, "axis": {"title": null, "domain": true, "domainColor": "#808080", "values": [0,25,50,75,100]}},
            "y": {"field": "y", "type": "quantitative", "stack": null, "scale": {"domain": [0, 100]}, "axis": {"domain": true, "domainColor": "#808080", "values": [0,25,50,75,100], "title": "slanDCs", "titleAngle": 0, "titleAlign": "right", "titleBaseline": "middle", "titleX": -11, "titleY": 37, "titleFontSize": 16}},
            "fill": {"field": "s", "type": "nominal", "legend": null}, "stroke": {"field": "s", "type": "nominal", "legend": null}}},
          {"data": {"values": [{"a": 0}, {"a": 1}]}, "mark": {"type": "point", "opacity": 0},
           "encoding": {"x": {"field": "a", "type": "quantitative", "scale": {"domain": [0, 1], "range": [0, 67], "nice": false, "zero": false},
            "axis": {"orient": "bottom", "offset": 6, "domain": true, "domainColor": "#111", "domainWidth": 1, "ticks": false, "values": [1], "labels": true, "labelExpr": "'▶'", "labelFont": "DejaVu Sans", "labelFontSize": 7, "labelColor": "#111", "labelBaseline": "middle", "labelAlign": "right", "labelPadding": 0, "title": "CD16", "titleX": 0, "titleY": 15, "titleAlign": "left", "titleAnchor": "start", "titleBaseline": "alphabetic", "titleFontSize": 16}}}}
         ],
         "resolve": {"scale": {"x": "independent"}}},
        {"width": 79, "height": 1, "data": {"values": [{"k": 0}]}, "mark": {"type": "point", "opacity": 0}},
        {"width": 90, "height": 73,
         "title": {"text": "PNH patient", "fontSize": 16, "fontWeight": "normal", "offset": 0, "dy": 8, "baseline": "alphabetic", "anchor": "middle"},
         "data": {"name": "hist"}, "transform": [{"filter": "datum.p == 'b2'"}], "mark": {"type": "area", "interpolate": "monotone", "strokeWidth": 0.8},
         "encoding": {"x": {"field": "x", "type": "quantitative", "scale": {"domain": [0, 100], "nice": false}, "axis": {"title": null, "domain": true, "domainColor": "#808080", "values": [0,25,50,75,100]}},
          "y": {"field": "y", "type": "quantitative", "stack": null, "scale": {"domain": [0, 100]}, "axis": {"domain": true, "domainColor": "#808080", "values": [0,25,50,75,100], "title": "slanDCs", "titleAngle": 0, "titleAlign": "right", "titleBaseline": "middle", "titleX": -10, "titleY": 37, "titleFontSize": 16}},
          "fill": {"field": "s", "type": "nominal", "legend": null}, "stroke": {"field": "s", "type": "nominal", "legend": null}}},
        {"width": 16, "height": 1, "data": {"values": [{"k": 0}]}, "mark": {"type": "point", "opacity": 0},
         "title": {"text": "B", "anchor": "start", "frame": "group", "dx": -81, "dy": -71, "offset": 0, "baseline": "alphabetic", "fontSize": 20, "fontWeight": "bold"}},
        {"width": 89, "height": 1, "data": {"values": [{"k": 0}]}, "mark": {"type": "point", "opacity": 0}},
        {"width": 79, "height": 1, "data": {"values": [{"k": 0}]}, "mark": {"type": "point", "opacity": 0}},
        {"width": 90, "height": 75,
         "layer": [
          {"data": {"name": "hist"}, "transform": [{"filter": "datum.p == 'b3'"}], "mark": {"type": "area", "interpolate": "monotone", "strokeWidth": 0.8},
           "encoding": {"x": {"field": "x", "type": "quantitative", "scale": {"domain": [0, 100], "nice": false}, "axis": {"title": null, "domain": true, "domainColor": "#808080", "values": [0,25,50,75,100]}},
            "y": {"field": "y", "type": "quantitative", "stack": null, "scale": {"domain": [0, 100]}, "axis": {"domain": true, "domainColor": "#808080", "values": [0,25,50,75,100], "title": "Neutrophils", "titleAngle": 0, "titleAlign": "right", "titleBaseline": "middle", "titleX": -4, "titleY": 38, "titleFontSize": 16}},
            "fill": {"field": "s", "type": "nominal", "legend": null}, "stroke": {"field": "s", "type": "nominal", "legend": null}}},
          {"data": {"values": [{"a": 0}, {"a": 1}]}, "mark": {"type": "point", "opacity": 0},
           "encoding": {"x": {"field": "a", "type": "quantitative", "scale": {"domain": [0, 1], "range": [0, 68], "nice": false, "zero": false},
            "axis": {"orient": "bottom", "offset": 5, "domain": true, "domainColor": "#111", "domainWidth": 1, "ticks": false, "values": [1], "labels": true, "labelExpr": "'▶'", "labelFont": "DejaVu Sans", "labelFontSize": 7, "labelColor": "#111", "labelBaseline": "middle", "labelAlign": "right", "labelPadding": 0, "title": "CD16", "titleX": 0, "titleY": 14, "titleAlign": "left", "titleAnchor": "start", "titleBaseline": "alphabetic", "titleFontSize": 16}}}}
         ],
         "resolve": {"scale": {"x": "independent"}}}
      ]
    },
    {"width": 1, "height": 22, "data": {"values": [{"k": 0}]}, "mark": {"type": "point", "opacity": 0}},
    {
      "spacing": 8,
      "bounds": "flush",
      "hconcat": [
        {"width": 4, "height": 1, "data": {"values": [{"k": 0}]}, "mark": {"type": "point", "opacity": 0},
         "title": {"text": "C", "anchor": "start", "frame": "group", "dx": -79, "dy": 29, "offset": 0, "baseline": "alphabetic", "fontSize": 20, "fontWeight": "bold"}},
        {"width": 303, "height": 225,
         "data": {"name": "expr"},
         "encoding": {
           "x": {"field": "t", "type": "quantitative", "scale": {"domain": [-1.06, 9], "nice": false, "zero": false},
             "axis": {"title": "Time", "values": [0, 2, 4, 6, 8], "labelExpr": "datum.value + ' h'", "domain": true, "domainColor": "black", "domainWidth": 2, "ticks": true, "tickSize": 8, "tickWidth": 2, "tickColor": "black", "labels": true, "labelFontSize": 17, "labelFontWeight": "bold", "labelColor": "black", "labelPadding": 2, "labelFlush": false, "titleFontSize": 17, "titleFontWeight": "bold", "titleColor": "black", "titlePadding": 7}},
           "y": {"field": "v", "type": "quantitative", "scale": {"domain": [0, 100], "nice": false},
             "axis": {"title": "% maximal expression", "values": [0, 20, 40, 60, 80, 100], "domain": true, "domainColor": "black", "domainWidth": 2, "ticks": true, "tickSize": 8, "tickWidth": 2, "tickColor": "black", "labels": true, "labelFontSize": 17, "labelFontWeight": "bold", "labelColor": "black", "labelPadding": 1, "titleFontSize": 17, "titleFontWeight": "bold", "titleColor": "black", "titlePadding": 8}}
         },
         "layer": [
          {"transform": [{"filter": "datum.lo != null"}], "mark": {"type": "errorbar", "ticks": {"size": 10, "thickness": 2, "color": "black"}, "rule": {"strokeWidth": 2, "color": "black"}},
           "encoding": {"y": {"field": "lo", "type": "quantitative"}, "y2": {"field": "hi"}}},
          {"mark": {"type": "line", "color": "black", "strokeWidth": 2}, "encoding": {"detail": {"field": "m"}}},
          {"mark": {"type": "point", "filled": true, "opacity": 1, "color": "black", "size": 110},
           "encoding": {"shape": {"field": "m", "type": "nominal", "scale": {"domain": ["CD16","CD32","CD83","CD86","HLA-DR"], "range": ["circle","square","triangle-up","triangle-down","diamond"]}, "legend": null}}},
          {"mark": {"type": "point", "filled": true, "opacity": 0, "color": "black"},
           "encoding": {"shape": {"field": "m", "type": "nominal",
             "scale": {"domain": ["CD16","CD32","CD83","CD86","HLA-DR"], "range": [
               "M-1,-0.1H1V0.1H-1Z M0.55,0A0.55,0.55,0,1,1,-0.55,0A0.55,0.55,0,1,1,0.55,0Z",
               "M-1,-0.1H1V0.1H-1Z M-0.55,-0.55H0.55V0.55H-0.55Z",
               "M-1,-0.1H1V0.1H-1Z M0,-0.6L0.62,0.48L-0.62,0.48Z",
               "M-1,-0.1H1V0.1H-1Z M0,0.6L-0.62,-0.48L0.62,-0.48Z",
               "M-1,-0.1H1V0.1H-1Z M0,-0.62L0.56,0L0,0.62L-0.56,0Z"]},
             "legend": {"orient": "none", "legendX": 320, "legendY": 35, "title": null, "labelFontSize": 17, "labelColor": "black", "symbolSize": 484, "symbolStrokeWidth": 0, "symbolFillColor": "black", "symbolOpacity": 1, "rowPadding": 10, "labelOffset": 10}}}}
         ],
         "resolve": {"scale": {"shape": "independent"}}}
      ]
    }
  ]
}
